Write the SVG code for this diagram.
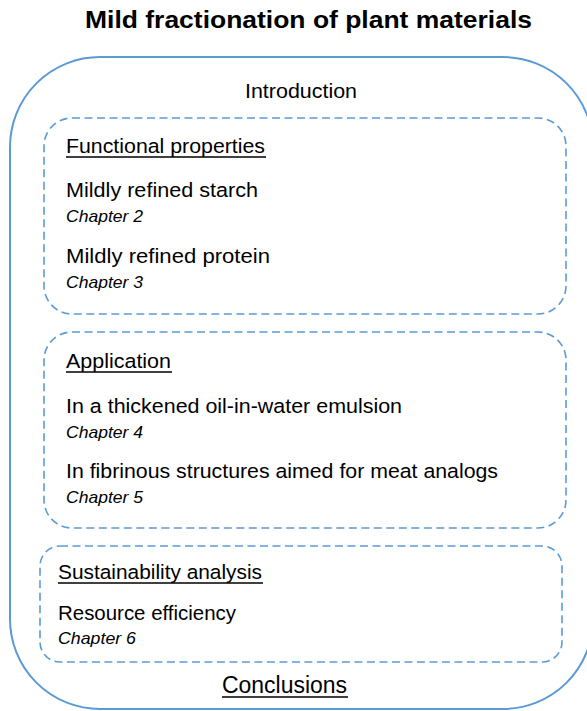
<svg xmlns="http://www.w3.org/2000/svg" width="587" height="711" viewBox="0 0 587 711">
  <style>
    .frame { fill: none; stroke: #5B9BD5; stroke-width: 2; }
    .group { fill: none; stroke: #5B9BD5; stroke-width: 1.6; stroke-dasharray: 8 4.5; }
    text { font-family: "Liberation Sans", Arial, sans-serif; fill: #000; }
    .title { font-size: 24.5px; font-weight: bold; }
    .body { font-size: 20.5px; }
    .chap { font-size: 16.5px; font-style: italic; }
    .big { font-size: 23px; }
    .ul { stroke: #000; stroke-width: 1.3; }
  </style>
  <rect width="587" height="711" fill="#fff"/>

  <g id="title">
    <text class="title" x="85" y="28" textLength="447" lengthAdjust="spacingAndGlyphs">Mild fractionation of plant materials</text>
  </g>

  <g id="outline">
    <rect class="frame" x="10" y="57" width="583" height="652" rx="90" ry="90"/>
    <text class="body" x="245" y="98" textLength="112" lengthAdjust="spacingAndGlyphs">Introduction</text>
    <text class="big" x="222" y="693" textLength="125" lengthAdjust="spacingAndGlyphs">Conclusions</text>
    <line class="ul" x1="222" y1="697" x2="348" y2="697"/>
  </g>

  <g id="functional-properties">
    <rect class="group" x="44" y="118" width="522" height="196" rx="28" ry="28"/>
    <text class="body" x="66" y="153" textLength="199" lengthAdjust="spacingAndGlyphs">Functional properties</text>
    <line class="ul" x1="66" y1="157" x2="266" y2="157"/>
    <text class="body" x="66" y="197" textLength="192" lengthAdjust="spacingAndGlyphs">Mildly refined starch</text>
    <text class="chap" x="66" y="222" textLength="77" lengthAdjust="spacingAndGlyphs">Chapter 2</text>
    <text class="body" x="66" y="263" textLength="204" lengthAdjust="spacingAndGlyphs">Mildly refined protein</text>
    <text class="chap" x="66" y="288" textLength="77" lengthAdjust="spacingAndGlyphs">Chapter 3</text>
  </g>

  <g id="application">
    <rect class="group" x="44" y="332" width="522" height="196" rx="28" ry="28"/>
    <text class="body" x="66" y="368" textLength="105" lengthAdjust="spacingAndGlyphs">Application</text>
    <line class="ul" x1="66" y1="372" x2="172" y2="372"/>
    <text class="body" x="66" y="413" textLength="336" lengthAdjust="spacingAndGlyphs">In a thickened oil-in-water emulsion</text>
    <text class="chap" x="66" y="438" textLength="77" lengthAdjust="spacingAndGlyphs">Chapter 4</text>
    <text class="body" x="66" y="478" textLength="432" lengthAdjust="spacingAndGlyphs">In fibrinous structures aimed for meat analogs</text>
    <text class="chap" x="66" y="503" textLength="77" lengthAdjust="spacingAndGlyphs">Chapter 5</text>
  </g>

  <g id="sustainability-analysis">
    <rect class="group" x="40" y="546" width="522" height="116" rx="20" ry="20"/>
    <text class="body" x="58" y="579" textLength="204" lengthAdjust="spacingAndGlyphs">Sustainability analysis</text>
    <line class="ul" x1="58" y1="583" x2="263" y2="583"/>
    <text class="body" x="58" y="620" textLength="178" lengthAdjust="spacingAndGlyphs">Resource efficiency</text>
    <text class="chap" x="58" y="644" textLength="78" lengthAdjust="spacingAndGlyphs">Chapter 6</text>
  </g>
</svg>
